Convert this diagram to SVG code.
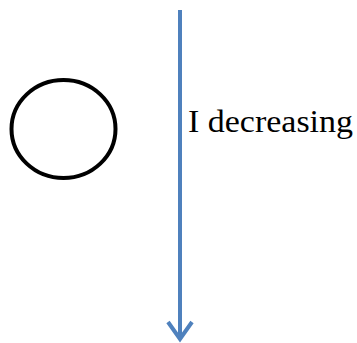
<svg xmlns="http://www.w3.org/2000/svg" width="357" height="343" viewBox="0 0 357 343">
<style>
.conn{fill:none;stroke:#4F81BD;stroke-width:4;stroke-linecap:butt;stroke-linejoin:miter}
.node{fill:none;stroke:#000;stroke-width:4}
.lbl{font-family:"Liberation Serif","DejaVu Serif",serif;font-size:31px;fill:#000}
</style>
<rect width="357" height="343" fill="#fff"/>
<g id="circle">
<ellipse class="node" cx="63.5" cy="129" rx="52" ry="49"/>
</g>
<g id="connectors">
<line class="conn" x1="180" y1="10" x2="180" y2="339"/>
<polyline class="conn" points="168,322 180,339 192,322"/>
</g>
<g id="label">
<text class="lbl" x="188" y="132" textLength="165" lengthAdjust="spacingAndGlyphs">I decreasing</text>
</g>
</svg>
